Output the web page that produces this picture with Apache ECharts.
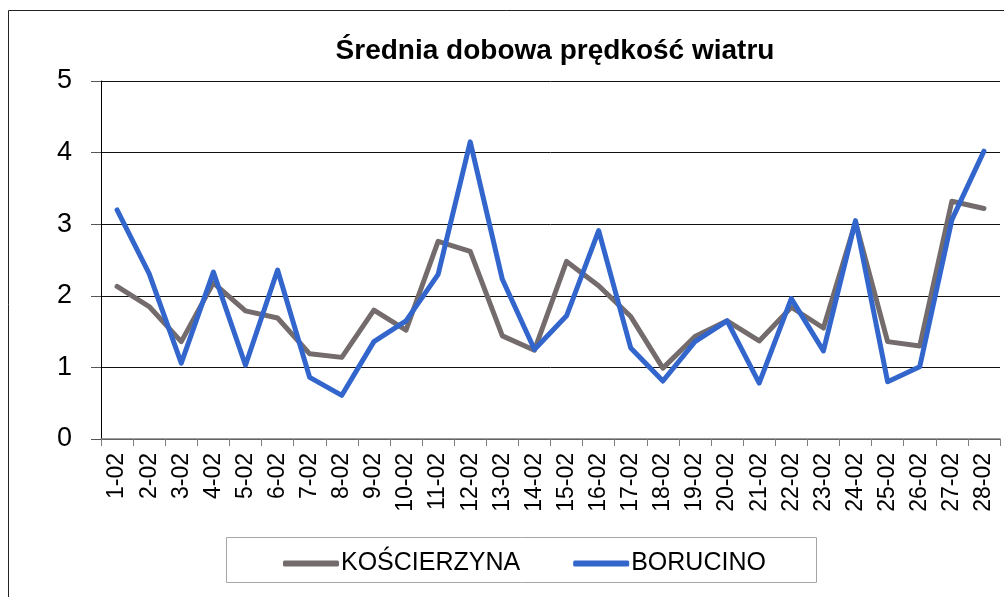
<!DOCTYPE html>
<html>
<head>
<meta charset="utf-8">
<script src="https://cdn.jsdelivr.net/npm/echarts@6/dist/echarts.min.js"></script>
<style>
  html, body { margin: 0; padding: 0; background: #fff; }
  #chart { width: 1004px; height: 597px; }
</style>
</head>
<body>
<div id="chart"></div>
<script>
// Days of February
const days = ['1-02','2-02','3-02','4-02','5-02','6-02','7-02','8-02','9-02','10-02',
  '11-02','12-02','13-02','14-02','15-02','16-02','17-02','18-02','19-02','20-02',
  '21-02','22-02','23-02','24-02','25-02','26-02','27-02','28-02'];

// Daily mean wind speed per station
const koscierzyna = [2.13, 1.85, 1.36, 2.18, 1.79, 1.69, 1.19, 1.14, 1.80, 1.52,
  2.76, 2.62, 1.44, 1.24, 2.48, 2.14, 1.71, 0.99, 1.43, 1.65,
  1.37, 1.84, 1.55, 3.03, 1.36, 1.30, 3.32, 3.22];
const borucino = [3.20, 2.31, 1.06, 2.33, 1.03, 2.36, 0.86, 0.61, 1.36, 1.65,
  2.30, 4.15, 2.23, 1.25, 1.72, 2.91, 1.27, 0.81, 1.36, 1.65,
  0.78, 1.96, 1.23, 3.05, 0.80, 1.01, 3.06, 4.02];

const chart = echarts.init(document.getElementById('chart'), null, { renderer: 'canvas' });

const sans = '"Liberation Sans", Arial, sans-serif';

chart.setOption({
  animation: false,
  backgroundColor: '#fff',
  title: {
    text: 'Średnia dobowa prędkość wiatru',
    left: 550,
    textAlign: 'center',
    top: 32,
    textStyle: { fontFamily: sans, fontWeight: 'bold', fontSize: 28, color: '#000' }
  },
  graphic: [
    {
      type: 'rect',
      shape: { x: 8.5, y: 10.5, width: 1020, height: 620 },
      style: { fill: null, stroke: '#222', lineWidth: 1 },
      silent: true
    },
    {
      type: 'rect',
      shape: { x: 226.5, y: 537.5, width: 590, height: 45 },
      style: { fill: null, stroke: '#a6a6a6', lineWidth: 1 },
      silent: true
    }
  ],
  legend: {
    data: ['KOŚCIERZYNA', 'BORUCINO'],
    left: 278,
    top: 546,
    itemWidth: 56,
    itemHeight: 6,
    itemGap: 53,
    icon: 'roundRect',
    textStyle: { fontFamily: sans, fontSize: 25, color: '#000', padding: [0, 0, 0, -3] }
  },
  grid: { left: 101, right: 4, top: 81, bottom: 158, containLabel: false },
  xAxis: {
    type: 'category',
    data: days,
    boundaryGap: true,
    axisLine: { show: true, lineStyle: { color: '#7f7f7f', width: 1.5 } },
    axisTick: { show: true, interval: 0, length: 7, lineStyle: { color: '#7f7f7f' } },
    axisLabel: {
      interval: 0,
      rotate: 90,
      margin: 14,
      fontFamily: sans,
      fontSize: 23,
      color: '#000'
    },
    splitLine: { show: false }
  },
  yAxis: {
    type: 'value',
    min: 0,
    max: 5,
    interval: 1,
    axisLine: { show: true, lineStyle: { color: '#000', width: 1 } },
    axisTick: { show: true, length: 10, lineStyle: { color: '#555' } },
    axisLabel: {
      margin: 29,
      fontFamily: sans,
      fontSize: 27,
      color: '#000'
    },
    splitLine: { show: true, lineStyle: { color: '#111', width: 1 } }
  },
  series: [
    {
      name: 'KOŚCIERZYNA',
      type: 'line',
      data: koscierzyna,
      symbol: 'none',
      color: '#746c6c',
      lineStyle: { width: 5, color: '#746c6c', cap: 'round', join: 'round' }
    },
    {
      name: 'BORUCINO',
      type: 'line',
      data: borucino,
      symbol: 'none',
      color: '#3366cc',
      lineStyle: { width: 5, color: '#3366cc', cap: 'round', join: 'round' }
    }
  ]
});
</script>
</body>
</html>
